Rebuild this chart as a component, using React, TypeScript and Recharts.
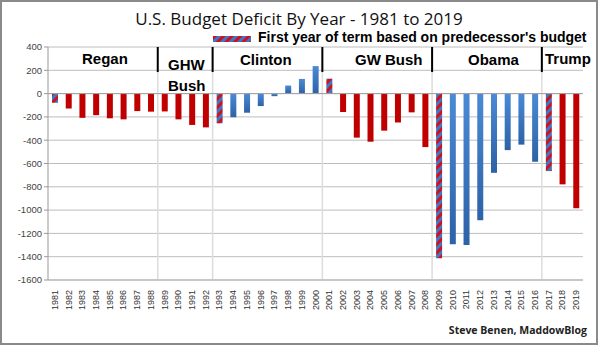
import React from 'react';
import { BarChart, Bar, XAxis, YAxis, CartesianGrid, Cell, ReferenceLine } from 'recharts';

const YEARS = [
  '1981', '1982', '1983', '1984', '1985', '1986', '1987', '1988', '1989', '1990',
  '1991', '1992', '1993', '1994', '1995', '1996', '1997', '1998', '1999', '2000',
  '2001', '2002', '2003', '2004', '2005', '2006', '2007', '2008', '2009', '2010',
  '2011', '2012', '2013', '2014', '2015', '2016', '2017', '2018', '2019',
];
const DEFICIT = [
  -79, -128, -208, -185, -212, -221, -150, -155, -153, -221,
  -269, -290, -255, -203, -164, -107, -22, 69, 126, 236,
  128, -158, -378, -413, -318, -248, -161, -459, -1413, -1294,
  -1300, -1087, -680, -485, -438, -585, -665, -779, -984,
];
// term boundaries (first year of each president's term)
const TERM_STARTS = ['1989', '1993', '2001', '2009', '2017'];
const FIRST_YEARS = ['1981', '1993', '2001', '2009', '2017'];
const BLUE_YEARS = ['1993', '1994', '1995', '1996', '1997', '1998', '1999', '2000',
  '2009', '2010', '2011', '2012', '2013', '2014', '2015', '2016'];
const Y_TICKS = [400, 200, 0, -200, -400, -600, -800, -1000, -1200, -1400, -1600];

const data = YEARS.map((year, i) => ({ year, value: DEFICIT[i] }));

const labelStyle: React.CSSProperties = {
  position: 'absolute',
  fontFamily: '"Liberation Sans", Arial, sans-serif',
  fontWeight: 'bold',
  fontSize: 15,
  color: '#000',
  lineHeight: '20px',
};

const XTick = (props: any) => {
  const { x, y, payload } = props;
  return (
    <text
      x={x + 3}
      y={y + 2}
      transform={`rotate(-90 ${x + 3} ${y + 2})`}
      textAnchor="end"
      fontSize={9}
      fill="#333"
      fontFamily='"Liberation Sans", Arial, sans-serif'
    >
      {payload.value}
    </text>
  );
};

function fillFor(year: string) {
  if (FIRST_YEARS.includes(year)) return 'url(#stripes)';
  if (BLUE_YEARS.includes(year)) return 'url(#blueGrad)';
  return '#C00000';
}

export default function App() {
  return (
    <div style={{ position: 'absolute', left: 0, top: 0, width: 598, height: 345, background: '#fff' }}>
      <div style={{ position: 'absolute', left: 0, top: 0, width: 594, height: 341, border: '2px solid #8a8a8a' }} />
      <BarChart width={598} height={345} data={data} margin={{ top: 47, right: 15, bottom: 0, left: 8 }} barCategoryGap={0}>
        <defs>
          <pattern id="stripes" width="6" height="6" patternUnits="userSpaceOnUse" patternTransform="rotate(45)">
            <rect width="6" height="6" fill="#3b78c7" />
            <rect width="3" height="6" fill="#d0101c" />
          </pattern>
          <linearGradient id="blueGrad" x1="0" y1="0" x2="0" y2="1">
            <stop offset="0%" stopColor="#4a8ad6" />
            <stop offset="100%" stopColor="#2d62a6" />
          </linearGradient>
        </defs>
        <CartesianGrid vertical={false} stroke="#bdbdbd" />
        <XAxis
          dataKey="year"
          interval={0}
          tick={<XTick />}
          tickLine={false}
          axisLine={{ stroke: '#b0b0b0' }}
          height={65}
        />
        <YAxis
          domain={[-1600, 400]}
          ticks={Y_TICKS}
          interval={0}
          width={40}
          tickLine={{ stroke: '#999' }}
          tickSize={4}
          axisLine={{ stroke: '#999' }}
          tick={{ fontSize: 9.5, fill: '#444', fontFamily: '"Liberation Sans", Arial, sans-serif' }}
        />
        {TERM_STARTS.map((y) => (
          <ReferenceLine key={'g' + y} x={y} position="start" stroke="#dcdcdc" strokeWidth={1.5} />
        ))}
        {TERM_STARTS.map((y) => (
          <ReferenceLine
            key={'b' + y}
            segment={[{ x: y, y: 400 }, { x: y, y: 185 }]}
            position="start"
            stroke="#000"
            strokeWidth={2}
          />
        ))}
        <ReferenceLine y={0} stroke="#a0a0a0" />
        <Bar dataKey="value" barSize={6} isAnimationActive={false}>
          {data.map((d) => (
            <Cell key={d.year} fill={fillFor(d.year)} />
          ))}
        </Bar>
      </BarChart>

      <div
        style={{
          position: 'absolute', left: 0, top: 7, width: 598, textAlign: 'center',
          fontFamily: '"Open Sans", sans-serif', fontSize: 17, color: '#111', whiteSpace: 'nowrap',
        }}
      >
        U.S. Budget Deficit By Year - 1981 to 2019
      </div>
      <svg style={{ position: 'absolute', left: 213, top: 36 }} width={38} height={6}>
        <rect width={38} height={6} fill="url(#stripes2)" />
        <defs>
          <pattern id="stripes2" width="6" height="6" patternUnits="userSpaceOnUse" patternTransform="rotate(45)">
            <rect width="6" height="6" fill="#3b78c7" />
            <rect width="3" height="6" fill="#d0101c" />
          </pattern>
        </defs>
      </svg>
      <div style={{ ...labelStyle, left: 258, top: 29, fontSize: 14, lineHeight: '16px', whiteSpace: 'nowrap' }}>
        First year of term based on predecessor's budget
      </div>
      <div style={{ ...labelStyle, left: 82, top: 49 }}>Regan</div>
      <div style={{ ...labelStyle, left: 168, top: 54, lineHeight: '21px' }}>GHW<br />Bush</div>
      <div style={{ ...labelStyle, left: 240, top: 50 }}>Clinton</div>
      <div style={{ ...labelStyle, left: 355, top: 50 }}>GW Bush</div>
      <div style={{ ...labelStyle, left: 468, top: 50 }}>Obama</div>
      <div style={{ ...labelStyle, left: 545, top: 49 }}>Trump</div>
      <div
        style={{
          position: 'absolute', right: 11, top: 323, fontFamily: '"Open Sans", sans-serif',
          fontWeight: 'bold', fontSize: 10.5, color: '#222',
        }}
      >
        Steve Benen, MaddowBlog
      </div>
    </div>
  );
}
